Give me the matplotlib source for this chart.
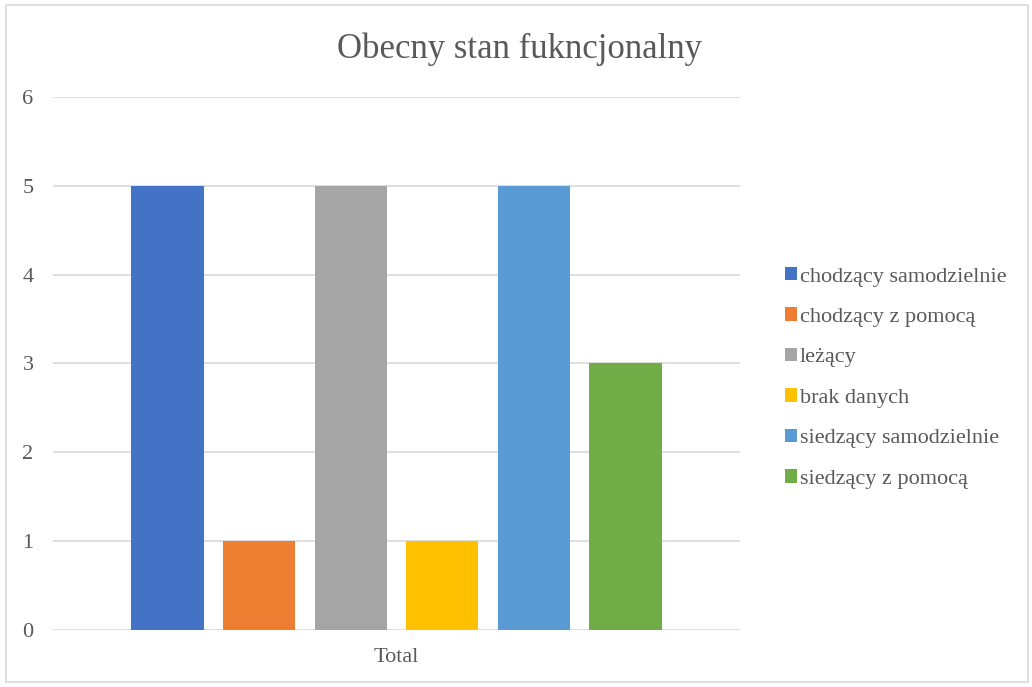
import matplotlib.pyplot as plt
from matplotlib.patches import Rectangle

categories = ["chodzący samodzielnie", "chodzący z pomocą", "leżący",
              "brak danych", "siedzący samodzielnie", "siedzący z pomocą"]
counts = [5, 1, 5, 1, 5, 3]
colors = ["#4472C4", "#ED7D31", "#A5A5A5", "#FFC000", "#5B9BD5", "#70AD47"]
yticks = [0, 1, 2, 3, 4, 5, 6]
group_label = "Total"

TEXT = "#595959"
GRID = "#D9D9D9"

plt.rcParams["font.family"] = ["Liberation Serif", "DejaVu Serif"]

fig = plt.figure(figsize=(10.32, 6.87), dpi=100)
ax = fig.add_axes([0.0514, 0.083, 0.6656, 0.7758])

for i, (name, v, c) in enumerate(zip(categories, counts, colors)):
    ax.bar(i, v, width=0.79, color=c, label=name, zorder=2)

ax.set_xlim(-1.25, 6.25)
ax.set_ylim(0, 6)
ax.set_yticks(yticks)
ax.set_xticks([2.5])
ax.set_xticklabels([group_label])
ax.tick_params(length=0, labelsize=16, colors=TEXT)
ax.tick_params(axis="y", pad=14)
ax.tick_params(axis="x", pad=13)
ax.grid(axis="y", color=GRID, linewidth=1.2, zorder=0)
for s in ax.spines.values():
    s.set_visible(False)

fig.text(0.503, 0.928, "Obecny stan fukncjonalny", ha="center", va="center",
         fontsize=25, color=TEXT)

leg = fig.legend(loc="center left", bbox_to_anchor=(0.741, 0.45), frameon=False,
                 fontsize=16, labelcolor=TEXT, handlelength=0.55, handleheight=0.55,
                 handletextpad=0.12, labelspacing=0.94)

# outer chart frame
fig.patches.append(Rectangle((0.006, 0.007), 0.99, 0.985, transform=fig.transFigure,
                             fill=False, edgecolor=GRID, linewidth=1.2))

plt.savefig("out.png", dpi=100)
